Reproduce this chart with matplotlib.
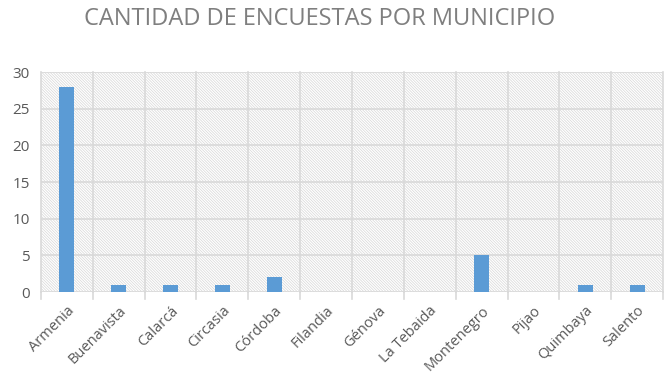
import matplotlib
matplotlib.use("Agg")
import matplotlib.pyplot as plt
import numpy as np

categories = ["Armenia", "Buenavista", "Calarcá", "Circasia", "Córdoba", "Filandia",
              "Génova", "La Tebaida", "Montenegro", "Pijao", "Quimbaya", "Salento"]
values = [28, 1, 1, 1, 2, 0, 0, 0, 5, 0, 1, 1]
yticks = [0, 5, 10, 15, 20, 25, 30]
title = "CANTIDAD DE ENCUESTAS POR MUNICIPIO"

plt.rcParams['font.family'] = ['Open Sans', 'DejaVu Sans']
plt.rcParams['hatch.color'] = '#d6d6d6'
plt.rcParams['hatch.linewidth'] = 0.5

fig = plt.figure(figsize=(6.69, 3.82), dpi=100)
ax = fig.add_axes([41/669, 1 - 292/382, (663-41)/669, (292-72)/382])

x = np.arange(len(categories))
ax.set_xlim(-0.5, len(categories) - 0.5)
ax.set_ylim(0, 30)

# hatched background
bg = matplotlib.patches.Rectangle((0, 0), 1, 1, transform=ax.transAxes,
                                  facecolor='white', edgecolor='#d6d6d6',
                                  hatch='\\' * 12, linewidth=0, zorder=0)
ax.add_patch(bg)
ax.set_facecolor('white')

# gridlines
for yv in yticks:
    ax.axhline(yv, color='#d9d9d9', linewidth=1.2, zorder=1)
for b in np.arange(-0.5, len(categories) + 0.5, 1):
    ax.plot([b, b], [0, 30], color='#d9d9d9', linewidth=1.2, zorder=1, clip_on=False)
    ax.plot([b, b], [0, -0.9], color='#d9d9d9', linewidth=1.2, zorder=1, clip_on=False)

ax.bar(x, values, width=0.29, color='#5b9bd5', zorder=3)

for s in ax.spines.values():
    s.set_visible(False)

ax.set_yticks(yticks)
ax.set_yticklabels([str(v) for v in yticks], fontsize=11, color='#595959')
ax.set_xticks(x)
ax.set_xticklabels(categories, rotation=45, ha='right', rotation_mode='anchor',
                   fontsize=10.5, color='#595959')
ax.tick_params(axis='both', length=0)
ax.tick_params(axis='x', pad=8)
ax.tick_params(axis='y', pad=8)

fig.text(0.478, 0.95, title, ha='center', va='center', fontsize=17, color='#7f7f7f')

fig.savefig("out.png", dpi=100)
